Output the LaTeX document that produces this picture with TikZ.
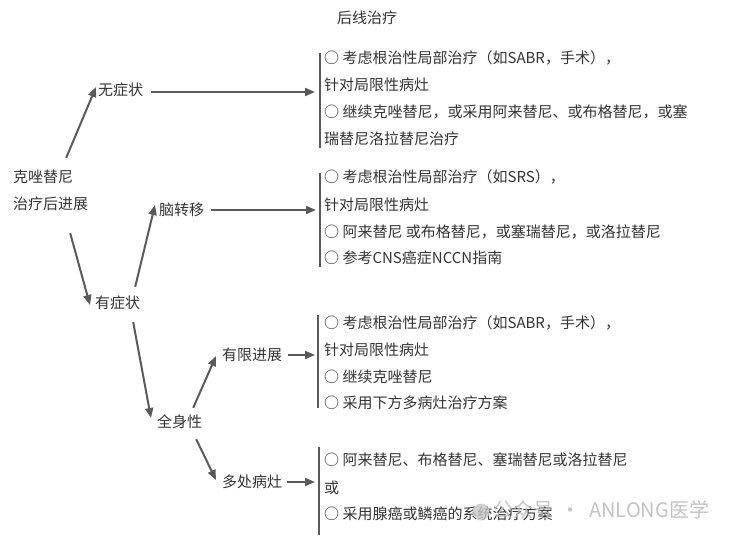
\documentclass[tikz,border=0pt]{standalone}
\usepackage{fontspec}
\setmainfont{Noto Sans CJK SC}
\usetikzlibrary{arrows.meta}
\definecolor{txtc}{HTML}{333333}
\definecolor{linec}{HTML}{5A5A5A}
\tikzset{
  lbl/.style={anchor=west, inner sep=0pt, text height=13pt, text depth=2pt,
    font=\fontsize{15}{18}\selectfont, text=txtc},
  arr/.style={draw=linec, line width=2pt, -{Triangle[length=10pt,width=8pt]}},
  brk/.style={draw=linec, line width=2.4pt}
}
\begin{document}
\begin{tikzpicture}[x=1pt,y=-1pt]
\useasboundingbox (0,0) rectangle (738,542);
% title
\node[lbl, anchor=center] (title) at (367,18) {后线治疗};
% tree nodes
\node[lbl] (s1) at (13,177) {克唑替尼};
\node[lbl] (s2) at (13,204) {治疗后进展};
\node[lbl] (wzz) at (98,90) {无症状};
\node[lbl] (nzy) at (159,210) {脑转移};
\node[lbl] (yzz) at (95,303) {有症状};
\node[lbl] (qsx) at (157,422) {全身性};
\node[lbl] (yxjz) at (222,355) {有限进展};
\node[lbl] (dcbz) at (222,482) {多处病灶};
% brackets
\coordinate (b1t) at (320,53);  \coordinate (b1b) at (320,148); \coordinate (b1) at (320,92);
\coordinate (b2t) at (320,173); \coordinate (b2b) at (320,267); \coordinate (b2) at (320,210);
\coordinate (b3t) at (318,315); \coordinate (b3b) at (318,408); \coordinate (b3) at (318,355);
\coordinate (b4t) at (319,447); \coordinate (b4b) at (319,535); \coordinate (b4) at (319,482);
\draw[brk] (b1t) -- (b1b);
\draw[brk] (b2t) -- (b2b);
\draw[brk] (b3t) -- (b3b);
\draw[brk] (b4t) -- (b4b);
% group 1
\node[lbl] (g1a) at (324,58) {○ 考虑根治性局部治疗（如SABR，手术），};
\node[lbl] (g1b) at (324,85) {针对局限性病灶};
\node[lbl] (g1c) at (324,112) {○ 继续克唑替尼，或采用阿来替尼、或布格替尼，或塞};
\node[lbl] (g1d) at (324,139) {瑞替尼洛拉替尼治疗};
% group 2
\node[lbl] (g2a) at (324,177) {○ 考虑根治性局部治疗（如SRS），};
\node[lbl] (g2b) at (324,205) {针对局限性病灶};
\node[lbl] (g2c) at (324,232) {○ 阿来替尼 或布格替尼，或塞瑞替尼，或洛拉替尼};
\node[lbl] (g2d) at (324,258) {○ 参考CNS癌症NCCN指南};
% group 3
\node[lbl] (g3a) at (324,323) {○ 考虑根治性局部治疗（如SABR，手术），};
\node[lbl] (g3b) at (324,350) {针对局限性病灶};
\node[lbl] (g3c) at (324,377) {○ 继续克唑替尼};
\node[lbl] (g3d) at (324,403) {○ 采用下方多病灶治疗方案};
% group 4
\node[lbl] (g4a) at (324,460) {○ 阿来替尼、布格替尼、塞瑞替尼或洛拉替尼};
\node[lbl] (g4b) at (324,488) {或};
\node[lbl] (g4c) at (324,514) {○ 采用腺癌或鳞癌的系统治疗方案};
% connectors
\draw[arr] ([shift={(23,-11.5)}]s1.north) -- ([shift={(-2,-3)}]wzz.west);
\draw[arr] ([shift={(8,2)}]wzz.east) -- ([shift={(-5,0)}]b1);
\draw[arr] ([shift={(19.5,21.5)}]s2.south) -- ([shift={(-5,2)}]yzz.west);
\draw[arr] ([shift={(17.5,-8.5)}]yzz.north) -- ([shift={(-4,-5)}]nzy.west);
\draw[arr] ([shift={(7,0)}]nzy.east) -- ([shift={(-4,0)}]b2);
\draw[arr] ([shift={(15.5,11.5)}]yzz.south) -- ([shift={(-6,-4)}]qsx.west);
\draw[arr] ([shift={(13.5,-6.5)}]qsx.north) -- ([shift={(-6,1)}]yxjz.west);
\draw[arr] ([shift={(6,0)}]yxjz.east) -- ([shift={(-3,0)}]b3);
\draw[arr] ([shift={(16.5,9.5)}]qsx.south) -- ([shift={(-6,-2)}]dcbz.west);
\draw[arr] ([shift={(5,0)}]dcbz.east) -- ([shift={(-4,0)}]b4);
% watermark
\node[circle, fill=gray!45, opacity=0.8, minimum size=17pt, inner sep=0pt] (wmicon) at (481,512) {};
\node[lbl, font=\fontsize{20}{24}\selectfont, text=gray!55, opacity=0.85] (wm) at (493,512)
  {公众号\hspace{7pt}·\hspace{9pt}ANLONG医学};
\end{tikzpicture}
\end{document}
